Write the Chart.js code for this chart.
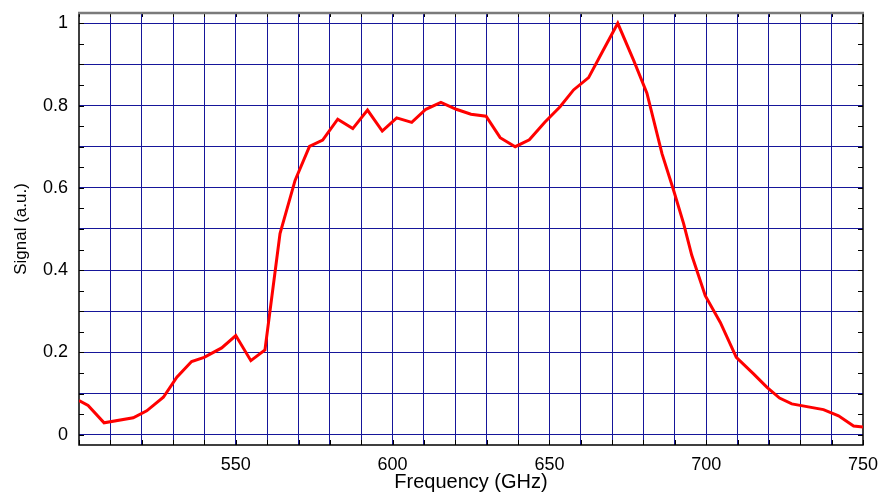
<!DOCTYPE html>
<html>
<head>
<meta charset="utf-8">
<script src="https://cdn.jsdelivr.net/npm/chart.js@4/dist/chart.umd.min.js"></script>
<style>
  html, body { margin: 0; padding: 0; background: #fff; }
  #wrap { width: 883px; height: 498px; }
</style>
</head>
<body>
<div id="wrap"><canvas id="c" width="883" height="498"></canvas></div>
<script>
// ---- data ----
const frequencyGHz = [500, 502.9, 508, 517.3, 521.6, 526.9, 531.2, 535.9, 539.9, 545.5,
  550, 554.8, 559.3, 564.1, 568.9, 573.5, 577.7, 582.5, 587.3, 592,
  596.7, 601.3, 606.1, 610.6, 615.4, 620.3, 625, 629.8, 634.3, 639.1,
  643.6, 648.6, 653.4, 657.7, 662.5, 667.2, 671.8, 676.8, 681.1, 685.9,
  689.6, 692.8, 695.4, 699.7, 704.5, 709.6, 715.1, 719.4, 723.4, 727.3,
  737.4, 742.2, 747, 750];
const signalAU = [0.083, 0.071, 0.029, 0.041, 0.058, 0.091, 0.14, 0.178, 0.188, 0.211,
  0.241, 0.18, 0.206, 0.489, 0.618, 0.701, 0.716, 0.767, 0.744, 0.789,
  0.738, 0.770, 0.759, 0.791, 0.808, 0.791, 0.779, 0.774, 0.722, 0.700,
  0.717, 0.760, 0.797, 0.838, 0.868, 0.935, 1.0, 0.911, 0.830, 0.683,
  0.594, 0.513, 0.436, 0.338, 0.273, 0.188, 0.148, 0.115, 0.089, 0.075,
  0.061, 0.046, 0.021, 0.019];
const xTickLabels = ['550', '600', '650', '700', '750'];
const yTickLabels = ['0', '0.2', '0.4', '0.6', '0.8', '1'];
const xGridValues = [500, 510, 520, 530, 540, 550, 560, 570, 580, 590, 600, 610, 620, 630, 640,
  650, 660, 670, 680, 690, 700, 710, 720, 730, 740, 750];
const yGridValues = [0, 0.1, 0.2, 0.3, 0.4, 0.5, 0.6, 0.7, 0.8, 0.9, 1.0];
const xTitle = 'Frequency (GHz)';
const yTitle = 'Signal (a.u.)';

// ---- chart ----
const points = frequencyGHz.map((f, i) => ({ x: f, y: signalAU[i] }));
const X_MIN = 500, X_MAX = 750, Y_MIN = -0.025, Y_MAX = 1.025;
const GRID = '#16169a';

const frame = {
  id: 'frame',
  beforeDatasetsDraw(chart) {
    const { ctx, chartArea: a, scales: { x, y } } = chart;
    ctx.save();
    ctx.strokeStyle = '#000';
    ctx.lineWidth = 1;
    ctx.beginPath();
    yGridValues.forEach(v => {
      [v, v + 0.05].forEach(t => {
        if (t > 1.001) return;
        const py = Math.round(y.getPixelForValue(t)) + 0.5;
        ctx.moveTo(a.left, py); ctx.lineTo(a.left + 5, py);
        ctx.moveTo(a.right - 5, py); ctx.lineTo(a.right, py);
      });
    });
    xGridValues.forEach(v => {
      const px = Math.round(x.getPixelForValue(v)) + 0.5;
      ctx.moveTo(px, a.bottom); ctx.lineTo(px, a.bottom - 5);
      ctx.moveTo(px, a.top); ctx.lineTo(px, a.top + 4);
    });
    ctx.stroke();
    // frame
    ctx.lineWidth = 1.5;
    ctx.strokeStyle = '#000';
    ctx.beginPath();
    ctx.moveTo(a.left, a.top); ctx.lineTo(a.left, a.bottom); ctx.lineTo(a.right, a.bottom); ctx.lineTo(a.right, a.top);
    ctx.stroke();
    ctx.lineWidth = 2.5;
    ctx.strokeStyle = '#7a7a7a';
    ctx.beginPath();
    ctx.moveTo(a.left - 1, a.top); ctx.lineTo(a.right + 1, a.top);
    ctx.stroke();
    ctx.restore();
  }
};

const isEdge = (v, lo, hi) => Math.abs(v - lo) < 1e-6 || Math.abs(v - hi) < 1e-6;

Chart.defaults.font.family = "'Liberation Sans', Arial, sans-serif";
Chart.defaults.font.size = 18;
Chart.defaults.color = '#000';

new Chart(document.getElementById('c'), {
  type: 'line',
  data: {
    datasets: [{
      data: points,
      borderColor: '#ff0000',
      borderWidth: 3,
      pointRadius: 0,
      tension: 0,
      fill: false
    }]
  },
  options: {
    responsive: false,
    animation: false,
    events: [],
    layout: { padding: { left: 0, top: 13, right: 20, bottom: 0 } },
    plugins: { legend: { display: false }, tooltip: { enabled: false } },
    scales: {
      x: {
        type: 'linear',
        min: X_MIN, max: X_MAX,
        afterBuildTicks: s => { s.ticks = xGridValues.map(v => ({ value: v })); },
        afterFit: s => { s.height = 53; s.paddingLeft = 0; s.paddingRight = 0; },
        border: { display: false },
        grid: {
          drawTicks: false,
          lineWidth: 1,
          color: c => (c.tick && isEdge(c.tick.value, X_MIN, X_MAX)) ? 'rgba(0,0,0,0)' : GRID
        },
        ticks: {
          autoSkip: false, maxRotation: 0, padding: 9,
          callback: v => { const s = String(Math.round(v)); return xTickLabels.includes(s) ? s : ''; }
        },
        title: { display: true, text: xTitle, font: { size: 20 }, padding: { top: 0, bottom: 4 } }
      },
      y: {
        type: 'linear',
        min: Y_MIN, max: Y_MAX,
        afterBuildTicks: s => { s.ticks = yGridValues.map(v => ({ value: v })); },
        afterFit: s => { s.width = 79; s.paddingTop = 0; s.paddingBottom = 0; },
        border: { display: false },
        grid: { drawTicks: false, lineWidth: 1, color: GRID },
        ticks: {
          autoSkip: false, padding: 11,
          callback: v => { const s = String(+v.toFixed(2)); return yTickLabels.includes(s) ? s : ''; }
        },
        title: { display: true, text: yTitle, font: { size: 17 }, padding: { top: 11, bottom: 0 } }
      }
    }
  },
  plugins: [frame]
});
</script>
</body>
</html>
